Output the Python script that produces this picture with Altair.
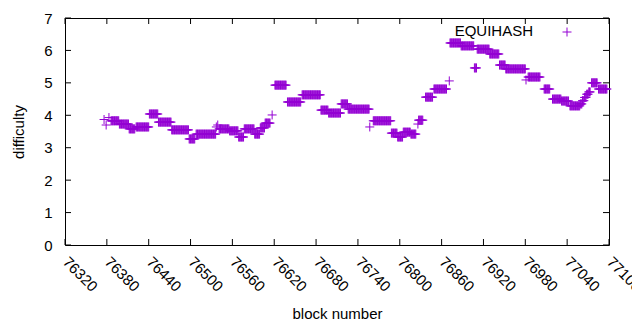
import altair as alt
import pandas as pd

# piecewise-constant difficulty runs (block range, value)
seg_start = [76376, 76379, 76383, 76386, 76398, 76412, 76422, 76441, 76454, 76473,
             76498, 76508, 76537, 76539, 76541, 76556, 76569, 76577, 76592, 76600,
             76607, 76617, 76621, 76639, 76660, 76687, 76698, 76716, 76726, 76757,
             76762, 76788, 76797, 76805, 76816, 76826, 76827, 76837, 76849, 76871,
             76872, 76888, 76907, 76911, 76929, 76943, 76952, 76981, 76984, 77007,
             77019, 77032, 77044, 77059, 77062, 77065, 77068, 77071, 77075, 77085]
seg_end = [76376, 76379, 76383, 76397, 76411, 76420, 76440, 76453, 76472, 76497,
           76506, 76536, 76537, 76539, 76555, 76568, 76576, 76591, 76599, 76606,
           76614, 76617, 76637, 76658, 76686, 76697, 76715, 76725, 76756, 76757,
           76787, 76796, 76804, 76815, 76823, 76826, 76833, 76847, 76867, 76871,
           76887, 76906, 76910, 76928, 76942, 76951, 76980, 76981, 77001, 77015,
           77031, 77042, 77058, 77061, 77064, 77067, 77070, 77073, 77083, 77097]
seg_value = [3.87, 3.70, 3.93, 3.83, 3.73, 3.58, 3.64, 4.04, 3.79, 3.55,
             3.27, 3.42, 3.64, 3.70, 3.58, 3.52, 3.33, 3.58, 3.42, 3.61,
             3.76, 4.01, 4.93, 4.41, 4.63, 4.16, 4.07, 4.35, 4.19, 3.64,
             3.83, 3.45, 3.33, 3.48, 3.42, 3.73, 3.85, 4.56, 4.81, 5.06,
             6.23, 6.14, 5.46, 6.04, 5.89, 5.55, 5.43, 5.09, 5.18, 4.81,
             4.50, 4.44, 4.29, 4.35, 4.45, 4.55, 4.65, 4.72, 5.00, 4.81]

x_ticks = list(range(76320, 77101, 60))
y_ticks = [0, 1, 2, 3, 4, 5, 6, 7]
series_name = "EQUIHASH"

rows = []
for s, e, v in zip(seg_start, seg_end, seg_value):
    for b in range(s, e + 1):
        rows.append({"block": b, "difficulty": v})
df = pd.DataFrame(rows)

W, H = 544, 227
FONT = "Liberation Sans"
COLOR = "#9400D3"
PLUS = "M-1,0L1,0M0,-1L0,1"

xscale = alt.Scale(domain=[76320, 77100], nice=False, zero=False)
yscale = alt.Scale(domain=[0, 7], nice=False)

x_axis = alt.Axis(values=x_ticks, title="block number", labelAngle=45,
                  labelAlign="left", labelBaseline="middle", tickSize=0,
                  domain=False, grid=False, labelPadding=14, labelFlush=False,
                  labelOverlap=False, titleX=W / 2, titleY=68,
                  titleBaseline="middle", format="d")
y_axis = alt.Axis(values=y_ticks, title="difficulty", tickSize=0,
                  domain=False, grid=False, labelPadding=13,
                  titleX=-47, titleY=H / 2, titleBaseline="middle",
                  titleAlign="center", titleAngle=-90)

points = alt.Chart(df).mark_point(
    shape=PLUS, filled=False, size=81, strokeWidth=1, color=COLOR, opacity=1
).encode(
    x=alt.X("block:Q", scale=xscale, axis=x_axis),
    y=alt.Y("difficulty:Q", scale=yscale, axis=y_axis),
)

xt = pd.DataFrame({"block": x_ticks})
yt = pd.DataFrame({"difficulty": y_ticks})

bottom_ticks = alt.Chart(xt).mark_rule(color="black", strokeWidth=1).encode(
    x=alt.X("block:Q", scale=xscale, axis=x_axis), y=alt.value(H), y2=alt.value(H - 6))
top_ticks = alt.Chart(xt).mark_rule(color="black", strokeWidth=1).encode(
    x=alt.X("block:Q", scale=xscale, axis=x_axis), y=alt.value(0), y2=alt.value(6))
left_ticks = alt.Chart(yt).mark_rule(color="black", strokeWidth=1).encode(
    y=alt.Y("difficulty:Q", scale=yscale, axis=y_axis), x=alt.value(0), x2=alt.value(6))
right_ticks = alt.Chart(yt).mark_rule(color="black", strokeWidth=1).encode(
    y=alt.Y("difficulty:Q", scale=yscale, axis=y_axis), x=alt.value(W), x2=alt.value(W - 6))

leg = pd.DataFrame({"name": [series_name]})
leg_text = alt.Chart(leg).mark_text(
    align="right", baseline="middle", font=FONT, fontSize=15, color="black"
).encode(text="name:N", x=alt.value(468), y=alt.value(13))
leg_mark = alt.Chart(leg).mark_point(
    shape=PLUS, filled=False, size=81, strokeWidth=1, color=COLOR, opacity=1
).encode(x=alt.value(502), y=alt.value(14))

chart = alt.layer(
    points, bottom_ticks, top_ticks, left_ticks, right_ticks, leg_text, leg_mark
).properties(
    width=W, height=H,
    autosize=alt.AutoSizeParams(type="none"),
    padding={"left": 57, "top": 10, "right": 23, "bottom": 77},
).configure_view(
    stroke="black", strokeWidth=1
).configure_axis(
    labelFont=FONT, titleFont=FONT, labelFontSize=15, titleFontSize=15,
    labelColor="black", titleColor="black", titleFontWeight="normal"
)

chart.save("out.html", embed_options={"renderer": "svg", "actions": False})
